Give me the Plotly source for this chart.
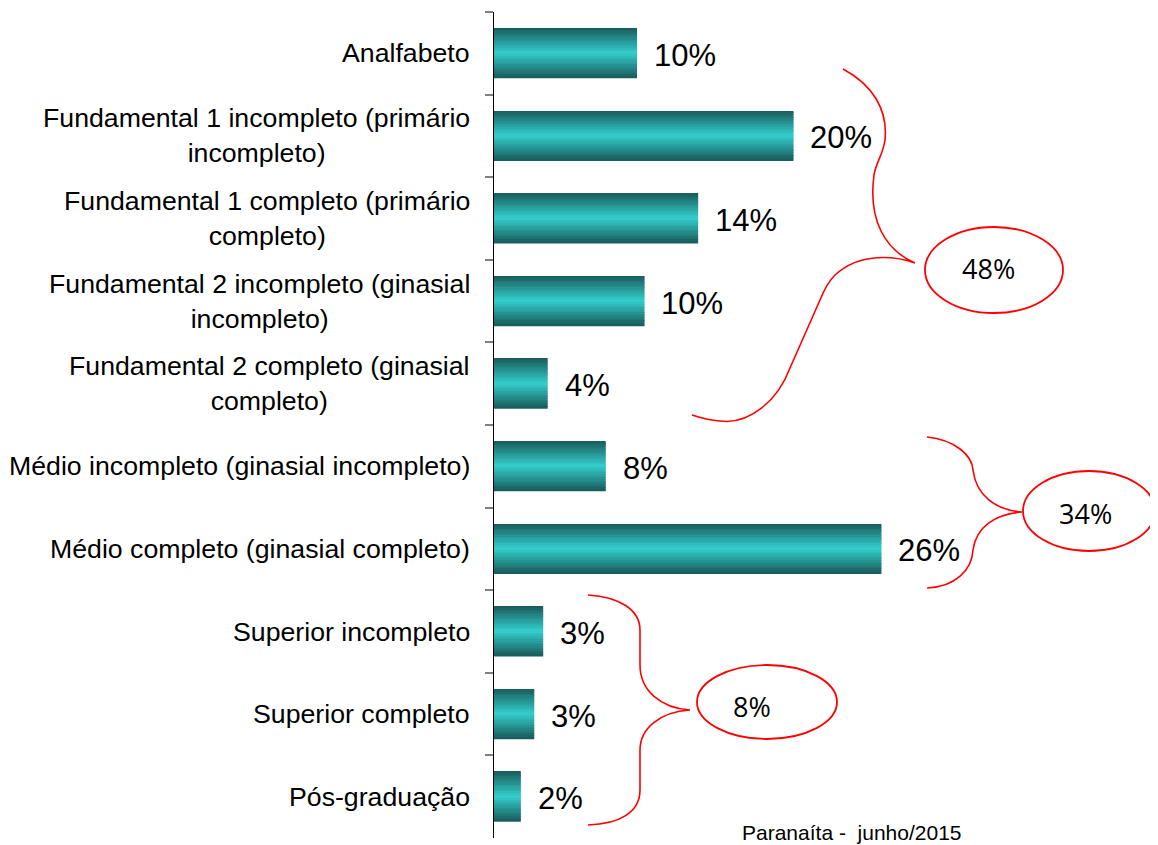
import plotly.graph_objects as go

# ---------------- data ----------------
categories = [
    "Analfabeto",
    "Fundamental 1 incompleto (primário<br>incompleto)",
    "Fundamental 1 completo (primário<br>completo)",
    "Fundamental 2 incompleto (ginasial<br>incompleto)",
    "Fundamental 2 completo (ginasial<br>completo)",
    "Médio incompleto (ginasial incompleto)",
    "Médio completo (ginasial completo)",
    "Superior incompleto",
    "Superior completo",
    "Pós-graduação",
]
values = [9.6, 20.1, 13.7, 10.1, 3.6, 7.5, 26.0, 3.3, 2.7, 1.8]
value_labels = ["10%", "20%", "14%", "10%", "4%", "8%", "26%", "3%", "3%", "2%"]
group_labels = ["48%", "34%", "8%"]
footer = "Paranaíta -\u00a0\u00a0junho/2015"

# ---------------- layout geometry (page pixels; page body has 8px margin) ----------------
OFF = 8
PAGE_W, PAGE_H = 1158, 845
W, H = PAGE_W - OFF, PAGE_H - OFF
PLOT_L, PLOT_R, PLOT_T, PLOT_B = 494, 1150, 12, 838   # plot area in page pixels
L = PLOT_L - OFF
R = (OFF + W) - PLOT_R
T = PLOT_T - OFF
B = (OFF + H) - PLOT_B
PW = PLOT_R - PLOT_L
PH = PLOT_B - PLOT_T
XMAX = PW / 14.9


def px(xp):
    return (xp - PLOT_L) / PW


def py(yp):
    return (PLOT_B - yp) / PH


fig = go.Figure()

# gradient bars built from thin overlaid strips
N = 30
thick = 0.6
dark = (26, 90, 90)
bright = (52, 206, 206)
sw = thick / N
for i in range(N):
    tc = -1 + (i + 0.5) * 2 / N
    f = 1 - abs(tc)
    col = tuple(int(round(d + (b - d) * f)) for d, b in zip(dark, bright))
    fig.add_trace(go.Bar(
        x=values, y=categories, orientation="h",
        width=[sw * 1.15] * len(values),
        offset=[-thick / 2 + i * sw] * len(values),
        marker=dict(color="rgb(%d,%d,%d)" % col, line=dict(width=0)),
        hoverinfo="skip", showlegend=False,
    ))

annotations = []
# category labels
for c in categories:
    annotations.append(dict(
        x=0, xref="paper", y=c, yref="y", text=c, showarrow=False,
        xanchor="right", yanchor="middle", align="center", xshift=-22,
        font=dict(family="Liberation Sans, Arial", size=26.7, color="black"),
    ))
# value labels
for c, v, t in zip(categories, values, value_labels):
    annotations.append(dict(
        x=v, xref="x", y=c, yref="y", text=t, showarrow=False,
        xanchor="left", yanchor="middle", xshift=15, yshift=-2,
        font=dict(family="Liberation Sans, Arial", size=31, color="black"),
    ))

# group ellipses + labels
ellipses = [(994, 270, 69, 43), (1089, 511, 66, 40), (767, 702, 70, 37)]
text_pos = [(988, 268), (1085, 513), (752, 706)]
shapes = []
for (cx, cy, rx, ry), (tx, ty), g in zip(ellipses, text_pos, group_labels):
    shapes.append(dict(
        type="circle", xref="paper", yref="paper",
        x0=px(cx - rx), x1=px(cx + rx), y0=py(cy + ry), y1=py(cy - ry),
        line=dict(color="#ff0000", width=1.8),
    ))
    annotations.append(dict(
        x=px(tx), xref="paper", y=py(ty), yref="paper", text=g, showarrow=False,
        xanchor="center", yanchor="middle",
        font=dict(family="Open Sans", size=27, color="black"),
    ))


def path(cmds):
    out = []
    for cmd in cmds:
        letter, pts = cmd[0], cmd[1:]
        coords = " ".join("%.5f,%.5f" % (px(a), py(b)) for a, b in pts)
        out.append(letter + " " + coords)
    return " ".join(out)


braces = [
    [("M", (843, 69)), ("C", (873, 85), (888, 110), (885, 140)),
     ("C", (883, 155), (876, 162), (874, 175)),
     ("C", (868, 220), (885, 250), (915, 263)),
     ("M", (915, 263)), ("C", (895, 256), (860, 252), (835, 275)),
     ("C", (828, 282), (824, 290), (820, 300)), ("L", (790, 368)),
     ("C", (778, 400), (750, 425), (720, 421)),
     ("C", (708, 420), (698, 417), (692, 415))],
    [("M", (927, 437)), ("C", (955, 440), (972, 455), (973, 470)),
     ("C", (976, 495), (995, 510), (1022, 512)),
     ("M", (1022, 512)), ("C", (995, 514), (976, 527), (973, 550)),
     ("C", (972, 570), (955, 587), (927, 588))],
    [("M", (588, 595)), ("C", (620, 597), (640, 610), (640, 630)),
     ("L", (640, 665)), ("C", (640, 690), (660, 708), (690, 710)),
     ("M", (690, 710)), ("C", (660, 712), (640, 728), (640, 750)),
     ("L", (640, 790)), ("C", (640, 812), (620, 824), (588, 825))],
]
for b in braces:
    shapes.append(dict(type="path", xref="paper", yref="paper", path=path(b),
                       line=dict(color="#ff0000", width=1.6)))

annotations.append(dict(
    x=px(740), xref="paper", y=py(832), yref="paper", text=footer,
    showarrow=False, xanchor="left", yanchor="middle",
    font=dict(family="Liberation Sans, Arial", size=21, color="black"),
))

fig.update_layout(
    width=W, height=H,
    margin=dict(l=L, r=R, t=T, b=B, pad=0),
    paper_bgcolor="white", plot_bgcolor="white",
    barmode="overlay", showlegend=False,
    xaxis=dict(range=[0, XMAX], visible=False, fixedrange=True),
    yaxis=dict(
        categoryorder="array", categoryarray=categories,
        autorange="reversed", showticklabels=False,
        showline=True, linecolor="black", linewidth=1,
        ticks="outside", tickson="boundaries", ticklen=8,
        tickcolor="#808080", tickwidth=1.5,
        showgrid=False, zeroline=False, fixedrange=True,
    ),
    shapes=shapes, annotations=annotations,
)

fig.write_html("out.html")
